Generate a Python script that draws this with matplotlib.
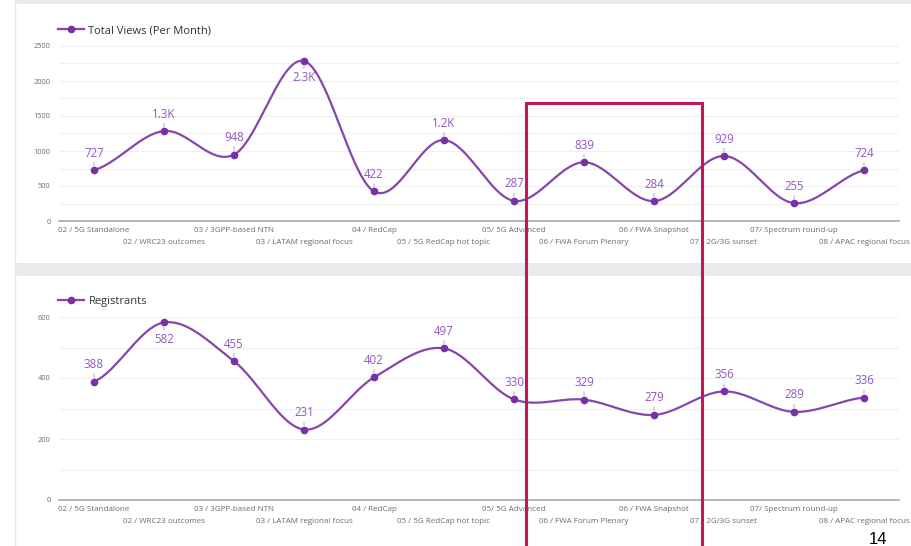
import matplotlib.pyplot as plt
import numpy as np
from matplotlib.patches import Rectangle

plt.rcParams['font.family'] = ['Open Sans', 'DejaVu Sans']

# data
categories = [
    '02 / 5G Standalone', '02 / WRC23 outcomes', '03 / 3GPP-based NTN',
    '03 / LATAM regional focus', '04 / RedCap', '05 / 5G RedCap hot topic',
    '05/ 5G Advanced', '06 / FWA Forum Plenary', '06 / FWA Snapshot',
    '07 / 2G/3G sunset', '07/ Spectrum round-up', '08 / APAC regional focus',
]
total_views = [727, 1286, 948, 2286, 422, 1157, 287, 839, 284, 929, 255, 724]
registrants = [388, 582, 455, 231, 402, 497, 330, 329, 279, 356, 289, 336]

LINE = '#8646ad'
MARK = '#7a2fa6'
LABEL = '#9057bd'
GRAY_TXT = '#6b6b6b'
BAND = '#e9ecef'


def smooth(xs, ys, n=24):
    # Catmull-Rom spline through the points (for the curved line only)
    xs = np.asarray(xs, float)
    ys = np.asarray(ys, float)
    px = np.concatenate([[2 * xs[0] - xs[1]], xs, [2 * xs[-1] - xs[-2]]])
    py = np.concatenate([[ys[0]], ys, [ys[-1]]])
    out_x, out_y = [], []
    t = np.linspace(0, 1, n, endpoint=False)
    for i in range(1, len(px) - 2):
        for p, out in ((px, out_x), (py, out_y)):
            p0, p1, p2, p3 = p[i - 1], p[i], p[i + 1], p[i + 2]
            m1 = (p2 - p0) / 2
            m2 = (p3 - p1) / 2
            h00 = 2 * t**3 - 3 * t**2 + 1
            h10 = t**3 - 2 * t**2 + t
            h01 = -2 * t**3 + 3 * t**2
            h11 = t**3 - t**2
            out.extend(h00 * p1 + h10 * m1 + h01 * p2 + h11 * m2)
    out_x.append(xs[-1])
    out_y.append(ys[-1])
    return np.array(out_x), np.array(out_y)


def fmt(v):
    return f'{v / 1000:.1f}K' if v >= 1000 else str(v)


def draw_panel(ax, values, name, ymax, major, minor, below):
    x = np.arange(len(values))
    sx, sy = smooth(x, values)
    ax.plot(sx, sy, color=LINE, lw=1.6, zorder=3)
    ax.plot(x, values, 'o', color=MARK, ms=4.5, zorder=4)
    # legend-like handle
    ax.plot([], [], color=LINE, lw=1.6, marker='o', ms=4.5, mfc=MARK, mec=MARK, label=name)
    leg = ax.legend(loc='lower left', bbox_to_anchor=(-0.006, 1.03), frameon=False,
                    fontsize=8, handlelength=2.3, handletextpad=0.4, borderaxespad=0)
    for t in leg.get_texts():
        t.set_color('#333333')

    for i, v in enumerate(values):
        dy = -7.5 if i in below else 7.5
        ax.annotate(fmt(v), xy=(i, v), xytext=(0, dy), textcoords='offset points',
                    ha='center', va='top' if i in below else 'bottom',
                    fontsize=8.3, color=LABEL, zorder=5,
                    arrowprops=dict(arrowstyle='-', color='#b8b8b8', lw=0.8,
                                    shrinkA=0, shrinkB=3))

    ax.set_xlim(-0.5, len(values) - 0.5)
    ax.set_ylim(0, ymax)
    ax.set_yticks(np.arange(0, ymax + 1, major))
    ax.set_yticks(np.arange(0, ymax + 1, minor), minor=True)
    ax.grid(axis='y', which='both', color='#f0f0f0', lw=0.8, zorder=0)
    ax.tick_params(axis='y', which='both', length=0, labelsize=5.3, labelcolor=GRAY_TXT, pad=6)

    ax.set_xticks(x[::2], categories[::2])
    ax.set_xticks(x[1::2], categories[1::2], minor=True)
    ax.tick_params(axis='x', which='major', length=0, pad=4.5, labelsize=5.8, labelcolor=GRAY_TXT)
    ax.tick_params(axis='x', which='minor', length=0, pad=13, labelsize=5.8, labelcolor=GRAY_TXT)

    for s in ['top', 'right', 'left']:
        ax.spines[s].set_visible(False)
    ax.spines['bottom'].set_color('#a8a8a8')
    ax.spines['bottom'].set_linewidth(1.2)
    ax.set_facecolor('none')


fig = plt.figure(figsize=(9.12, 5.46), dpi=100)
W, H = 912, 546

# page background pieces
fig.add_artist(Rectangle((15 / W, 1 - 4 / H), 1, 4 / H, transform=fig.transFigure,
                         color=BAND, lw=0, zorder=0))
fig.add_artist(Rectangle((15 / W, 1 - 276 / H), 1, 13 / H, transform=fig.transFigure,
                         color=BAND, lw=0, zorder=0))
fig.add_artist(plt.Line2D([15 / W, 15 / W], [0, 1], transform=fig.transFigure,
                          color='#e4e7ea', lw=1, zorder=0))

ax1 = fig.add_axes([59 / W, 1 - 221 / H, 840 / W, 175 / H])
draw_panel(ax1, total_views, 'Total Views (Per Month)', 2500, 500, 250, below={3})

ax2 = fig.add_axes([59 / W, 1 - 500 / H, 840 / W, 183 / H])
draw_panel(ax2, registrants, 'Registrants', 600, 200, 100, below={1})

# highlight box
fig.add_artist(Rectangle((526 / W, -0.02), 176 / W, 1 - 103 / H + 0.02,
                         transform=fig.transFigure, fill=False,
                         edgecolor='#c2185b', lw=2.2, zorder=10))

fig.text(878 / W, 1 - 539 / H, '14', ha='center', va='center', fontsize=12,
         color='black', family=['Liberation Sans', 'DejaVu Sans'])

fig.savefig('out.png', dpi=100)
